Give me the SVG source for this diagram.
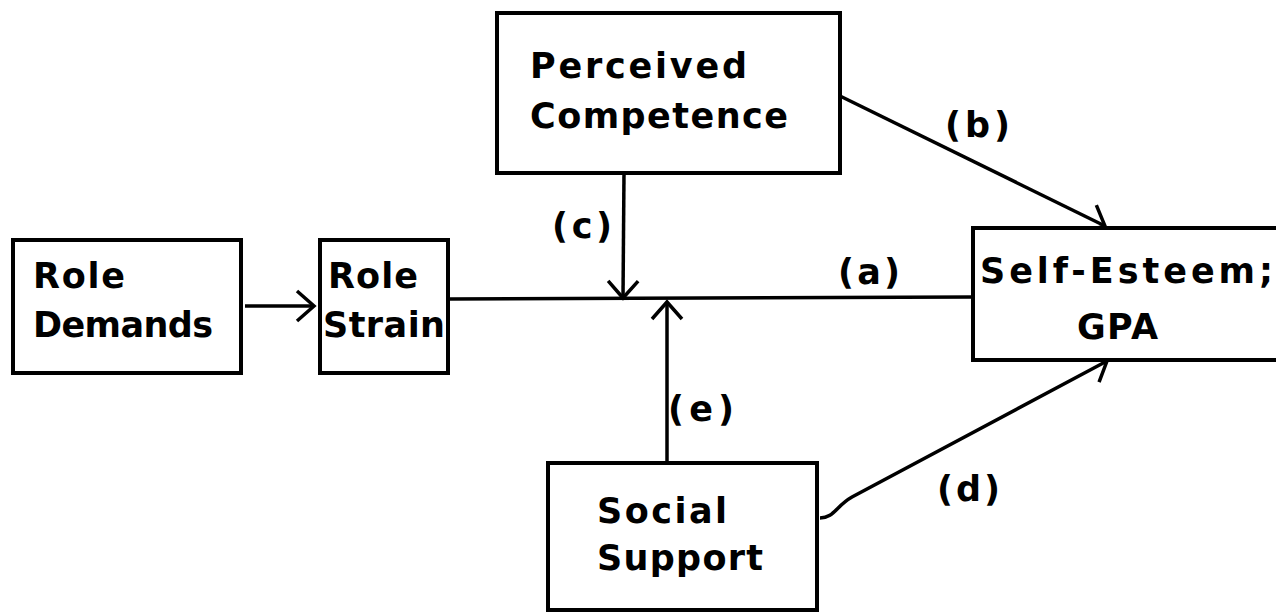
<svg xmlns="http://www.w3.org/2000/svg" width="1276" height="612" viewBox="0 0 1276 612">
<style>
.box{fill:#fff;stroke:#000;stroke-width:4}
.t{font-family:"DejaVu Sans","Liberation Sans",sans-serif;font-weight:bold;font-size:35px;fill:#000}
.c{fill:none;stroke:#000;stroke-width:3.5}
</style>
<defs>
<marker id="v" markerUnits="userSpaceOnUse" markerWidth="40" markerHeight="40" refX="20" refY="20" orient="auto" viewBox="0 0 40 40">
<path d="M3,5 L20,20 L3,35" fill="none" stroke="#000" stroke-width="3.5"/>
</marker>
</defs>
<rect width="1276" height="612" fill="#fff"/>
<g id="connectors">
<path class="c" d="M245,306 L314,306" marker-end="url(#v)"/>
<path class="c" d="M448,299 L973,297"/>
<path class="c" d="M624,173 L623,298" marker-end="url(#v)"/>
<path class="c" d="M667,463 L667,302" marker-end="url(#v)"/>
<path class="c" d="M840,96 L1105,226" marker-end="url(#v)"/>
<path class="c" d="M820,518 C834,518 836,506 852,497 L1107,361" marker-end="url(#v)"/>
</g>
<g id="role-demands">
<rect class="box" x="13" y="240" width="228" height="133"/>
<text class="t" x="33" y="288" textLength="92" lengthAdjust="spacing">Role</text>
<text class="t" x="33" y="337" textLength="180" lengthAdjust="spacing">Demands</text>
</g>
<g id="role-strain">
<rect class="box" x="320" y="240" width="128" height="133"/>
<text class="t" x="328" y="288" textLength="90" lengthAdjust="spacing">Role</text>
<text class="t" x="323" y="337" textLength="122" lengthAdjust="spacing">Strain</text>
</g>
<g id="perceived-competence">
<rect class="box" x="497" y="13" width="343" height="160"/>
<text class="t" x="530" y="78" textLength="217" lengthAdjust="spacing">Perceived</text>
<text class="t" x="530" y="128" textLength="258" lengthAdjust="spacing">Competence</text>
</g>
<g id="self-esteem">
<rect class="box" x="973" y="228" width="310" height="132"/>
<text class="t" x="980" y="283" textLength="293" lengthAdjust="spacing">Self-Esteem;</text>
<text class="t" x="1077" y="339" textLength="81" lengthAdjust="spacing">GPA</text>
</g>
<g id="social-support">
<rect class="box" x="548" y="463" width="269" height="147"/>
<text class="t" x="597" y="523" textLength="130" lengthAdjust="spacing">Social</text>
<text class="t" x="597" y="570" textLength="166" lengthAdjust="spacing">Support</text>
</g>
<g id="labels">
<text class="t" x="945" y="137" textLength="65" lengthAdjust="spacing">(b)</text>
<text class="t" x="552" y="238" textLength="60" lengthAdjust="spacing">(c)</text>
<text class="t" x="838" y="284" textLength="62" lengthAdjust="spacing">(a)</text>
<text class="t" x="668" y="421" textLength="66" lengthAdjust="spacing">(e)</text>
<text class="t" x="937" y="501" textLength="63" lengthAdjust="spacing">(d)</text>
</g>
</svg>
